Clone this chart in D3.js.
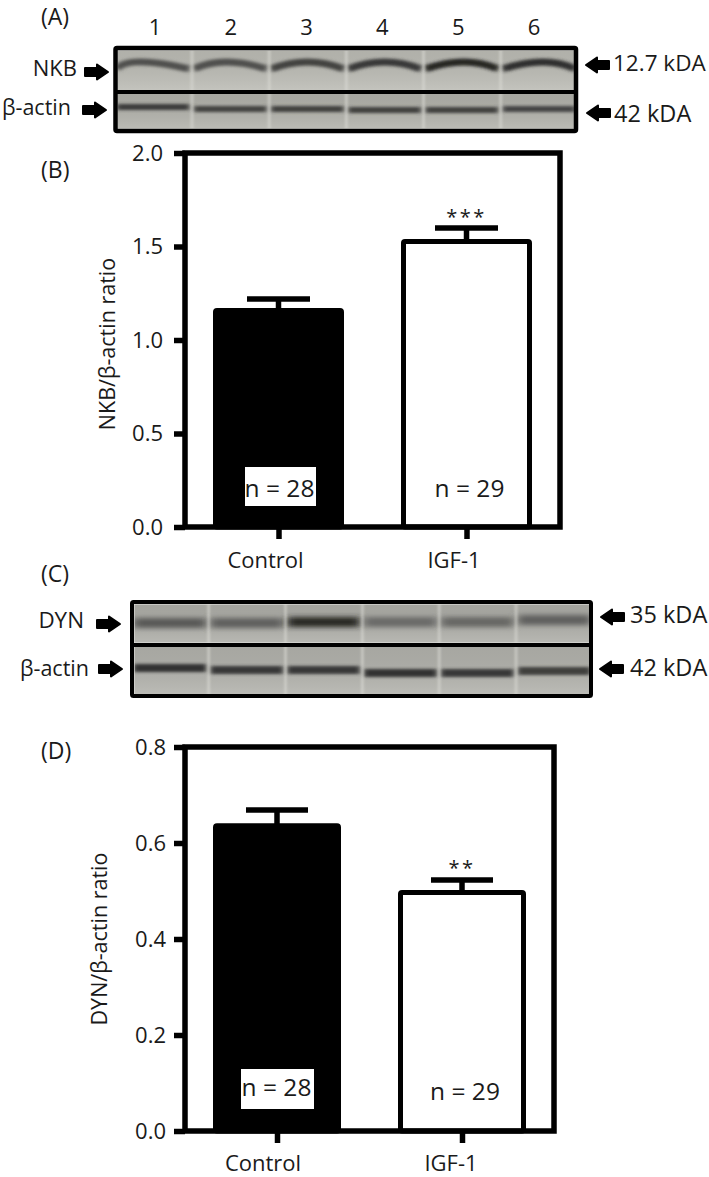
<!DOCTYPE html>
<html><head><meta charset="utf-8">
<script src="https://cdn.jsdelivr.net/npm/d3@7/dist/d3.min.js"></script>
<style>html,body{margin:0;padding:0;background:#fff}svg{display:block}text{font-family:"Open Sans",sans-serif;fill:#1a1a1a}</style>
</head><body><svg id="c" width="709" height="1177"></svg>
<script>
const groups=["Control","IGF-1"];
const nkbMeans=[1.158,1.527], nkbErr=[1.219,1.599];
const dynMeans=[0.636,0.497], dynErr=[0.669,0.523];
const nkbTicks=[0,0.5,1,1.5,2], dynTicks=[0,0.2,0.4,0.6,0.8];
const nLabels=["n = 28","n = 29"];
const nkbStars=["","***"], dynStars=["","**"];
const laneLabels=["1","2","3","4","5","6"];
const nkbBand=[0.62,0.62,0.72,0.8,0.95,0.88];
const actinA=[0.78,0.72,0.75,0.75,0.75,0.7];
const dynBand=[0.55,0.5,0.95,0.42,0.45,0.5];
const actinC=[0.85,0.8,0.8,0.85,0.8,0.75];
const nkbPeak=[0.15,0.4,0.5,0.5,0.55,0.6];

const svg=d3.select("#c");
const defs=svg.append("defs");
function blurF(id,dev){
  defs.append("filter").attr("id",id).attr("filterUnits","userSpaceOnUse").attr("x",0).attr("y",0).attr("width",709).attr("height",1177)
    .append("feGaussianBlur").attr("stdDeviation",dev);
}
blurF("blur","2.5 1.5"); blurF("blurW","4 2.6"); blurF("blur2","1.3");
const grad=defs.append("linearGradient").attr("id","sheen").attr("x1",0).attr("x2",0).attr("y1",0).attr("y2",1);
grad.append("stop").attr("offset",0).attr("stop-color","#000").attr("stop-opacity",0.06);
grad.append("stop").attr("offset",1).attr("stop-color","#fff").attr("stop-opacity",0.14);

function t(x,y,s,size,anchor,rot){
  const e=svg.append("text").attr("x",x).attr("y",y).text(s).attr("font-size",size).attr("text-anchor",anchor||"start");
  if(rot)e.attr("transform",`rotate(${rot} ${x} ${y})`);
  return e;
}
function arrow(x,y,dir){
  const p=[[0,-4],[12,-4],[12,-7.5],[23,0],[12,7.5],[12,4],[0,4]];
  svg.append("path").attr("d",d3.line().curve(d3.curveLinearClosed)(p.map(d=>[x+dir*d[0],y+d[1]]))).attr("fill","#000").attr("stroke","#000").attr("stroke-linejoin","round").attr("stroke-width",2);
}
function blot(x0,x1,y0,y1,strengths,bandY,arch,bg,th,filt,tilt,peaks){
  const lane=d3.scaleBand().domain(d3.range(6)).range([x0,x1]).paddingInner(0.06).paddingOuter(0.01);
  const clip="cl"+Math.round(y0)+"_"+Math.round(x0);
  defs.append("clipPath").attr("id",clip).append("rect").attr("x",x0).attr("y",y0).attr("width",x1-x0).attr("height",y1-y0);
  const g=svg.append("g").attr("clip-path",`url(#${clip})`);
  g.append("rect").attr("x",x0).attr("y",y0).attr("width",x1-x0).attr("height",y1-y0).attr("fill",bg);
  g.append("rect").attr("x",x0).attr("y",y0).attr("width",x1-x0).attr("height",y1-y0).attr("fill","url(#sheen)");
  strengths.forEach((s,i)=>{
    const a=lane(i),w=lane.bandwidth();
    const c=d3.interpolateRgb("#a0a09b","#1e1e1e")(s);
    const by=bandY+(tilt?tilt[i]:0);
    const px=a+w*(peaks?peaks[i]:0.5);
    g.append("path").attr("d",`M${a},${by+arch*0.7} Q${px},${by-arch*1.3} ${a+w},${by+arch*0.7}`)
      .attr("fill","none").attr("stroke",c).attr("stroke-width",th).attr("filter",`url(#${filt})`);
  });
  d3.range(1,6).forEach(i=>{
    g.append("rect").attr("x",lane(i)-lane.step()*0.045).attr("y",y0).attr("width",3).attr("height",y1-y0).attr("fill","#dcdcd6").attr("opacity",0.55).attr("filter","url(#blur2)");
  });
  g.append("rect").attr("x",x0+1).attr("y",y0+1).attr("width",x1-x0-2).attr("height",y1-y0-2).attr("fill","none").attr("stroke","#e0e0dc").attr("stroke-width",1.2);
}
// Panel A
t(41,25,"(A)",23);
laneLabels.forEach((s,i)=>t(d3.scalePoint().domain(laneLabels).range([155,534])(s),35,s,22,"middle"));
blot(116,576,49,92,nkbBand,64,7,"#bcbcb5",7,"blur",null,nkbPeak);
blot(116,576,92,130,actinA,109,0,"#b2b2ab",6,"blur",[-2,0,0,1,1,0]);
svg.append("rect").attr("x",115.5).attr("y",48).attr("width",460.5).attr("height",83).attr("rx",1.5).attr("fill","none").attr("stroke","#000").attr("stroke-width",4.5);
svg.append("rect").attr("x",114).attr("y",90).attr("width",464).attr("height",4).attr("fill","#000");
t(77,76,"NKB",22,"end"); arrow(85,72,1);
t(2,115,"β-actin",21.5); arrow(83,110,1);
arrow(609,65,-1); t(613,71,"12.7 kDA",22.5);
arrow(610,113,-1); t(614,122,"42 kDA",23.5);
// Panel C
t(41,582,"(C)",23);
blot(133,591,603,644,dynBand,622,0,"#aeaea8",10,"blurW",[1,1,0,0,0,-2]);
blot(133,591,645,696,actinC,670,0,"#b2b2ac",8,"blur",[-2,0,0,3,3,1]);
svg.append("rect").attr("x",132).attr("y",602).attr("width",459).attr("height",94).attr("rx",1.5).attr("fill","none").attr("stroke","#000").attr("stroke-width",4);
svg.append("rect").attr("x",130).attr("y",643).attr("width",463).attr("height",4).attr("fill","#000");
t(84,628,"DYN",22.4,"end"); arrow(97,624,1);
t(20,676,"β-actin",21.5); arrow(99,669,1);
arrow(624,617,-1); t(630,623,"35 kDA",23.5);
arrow(623,669,-1); t(630,676,"42 kDA",23.5);

function panel(o){
  const y=d3.scaleLinear().domain(o.dom).range([o.y0,o.y1]);
  const band=d3.scalePoint().domain(groups).range(o.xc);
  const g=svg.append("g");
  groups.forEach((k,i)=>{
    const c=band(k),w=o.bw,v=o.m[i],e=o.e[i];
    g.append("line").attr("x1",c).attr("x2",c).attr("y1",y(v)).attr("y2",y(e)).attr("stroke","#000").attr("stroke-width",5.5);
    g.append("line").attr("x1",c-o.cap).attr("x2",c+o.cap).attr("y1",y(e)).attr("y2",y(e)).attr("stroke","#000").attr("stroke-width",5.5);
    g.append("rect").attr("x",c-w/2+2.5).attr("y",y(v)).attr("width",w-5).attr("height",y(0)-y(v)).attr("rx",1.5).attr("fill",i?"#fff":"#000").attr("stroke","#000").attr("stroke-width",5).attr("stroke-linejoin","round");
    if(o.stars[i]) t(c,y(e)+o.starDy,o.stars[i],20,"middle").attr("letter-spacing",2.5);
    if(i===0) g.append("rect").attr("x",o.boxX).attr("y",o.boxY).attr("width",o.boxW).attr("height",o.boxH).attr("fill","#fff");
    t(o.nX[i],o.nY[i],nLabels[i],24.5,"middle");
  });
  g.append("rect").attr("x",o.x0).attr("y",o.y1).attr("width",o.x1-o.x0).attr("height",o.y0-o.y1).attr("fill","none").attr("stroke","#000").attr("stroke-width",5.5);
  const ax=d3.axisLeft(y).tickValues(o.ticks).tickFormat(d3.format(".1f")).tickSize(11).tickPadding(o.pad);
  const a=svg.append("g").attr("transform",`translate(${o.x0},0)`).call(ax);
  a.select(".domain").remove();
  a.selectAll("line").attr("stroke","#000").attr("stroke-width",5.5);
  a.selectAll("text").attr("font-size",22).attr("font-family",'"Open Sans",sans-serif').attr("fill","#1a1a1a");
  const bx=d3.axisBottom(band).tickSize(12).tickFormat("");
  const b=svg.append("g").attr("transform",`translate(0,${o.y0})`).call(bx);
  b.select(".domain").remove();
  b.selectAll("line").attr("stroke","#000").attr("stroke-width",5.5);
  groups.forEach((k,i)=>t(o.labX[i],o.labY,k,22,"middle"));
  t(o.yLabX,o.yLabY,o.ylab,21.5,"middle",-90);
  t(41,o.tagY,o.tag,23);
}
panel({dom:[0,2],y0:527,y1:153,x0:185,x1:560,xc:[278.5,466.5],bw:131,cap:31.5,m:nkbMeans,e:nkbErr,ticks:nkbTicks,stars:nkbStars,starDy:-4,pad:11,
 boxX:245,boxY:467,boxW:71,boxH:39,nX:[279.5,469.5],nY:[497,497],labX:[265.5,454],labY:568,ylab:"NKB/β-actin ratio",yLabX:115,yLabY:344,tag:"(B)",tagY:178});
panel({dom:[0,0.8],y0:1131,y1:747,x0:185,x1:554,xc:[277,462],bw:128,cap:31,m:dynMeans,e:dynErr,ticks:dynTicks,stars:dynStars,starDy:-5,pad:8,
 boxX:241,boxY:1069,boxW:73,boxH:40,nX:[276.5,465],nY:[1096,1100],labX:[263,451],labY:1171,ylab:"DYN/β-actin ratio",yLabX:107,yLabY:939,tag:"(D)",tagY:759});
</script></body></html>
